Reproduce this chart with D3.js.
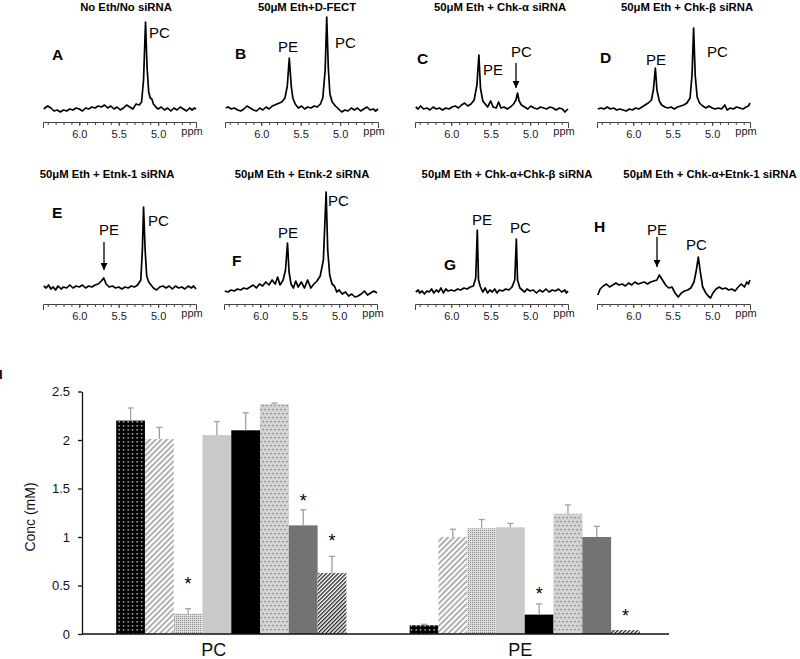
<!DOCTYPE html>
<html><head><meta charset="utf-8">
<script src="https://cdn.jsdelivr.net/npm/d3@7"></script>
<style>body{margin:0;background:#fff} svg{display:block;font-family:"Liberation Sans",Arial,sans-serif}</style>
</head><body>
<svg id="c" width="800" height="659"></svg>
<script>
// ---------------- DATA ----------------
const panelIds = ["A","B","C","D","E","F","G","H"];
const panelTitles = ["No Eth/No siRNA","50μM Eth+D-FECT","50μM Eth + Chk-α siRNA","50μM Eth + Chk-β siRNA",
  "50μM Eth + Etnk-1 siRNA","50μM Eth + Etnk-2 siRNA","50μM Eth + Chk-α+Chk-β siRNA","50μM Eth + Chk-α+Etnk-1 siRNA"];
const ppmLabelTicks = [6.0,5.5,5.0];
const ppmMinorTicks = [6.4,6.3,6.2,6.1,6.0,5.9,5.8,5.7,5.6,5.5,5.4,5.3,5.2,5.1,5.0,4.9,4.8,4.7,4.6];
const ppmDomain = [6.46,4.52];

// spectra: [ppm, intensity above baseline]
const specA = [[6.45,1],[6.42,3],[6.40,4],[6.36,2],[6.32,-1],[6.28,0],[6.24,-2],[6.20,0],[6.16,-1],[6.12,1],[6.08,0],[6.04,2],[6.00,1],[5.96,-1],[5.92,2],[5.88,1],[5.84,3],[5.80,2],[5.76,4],[5.72,3],[5.68,5],[5.64,2],[5.60,4],[5.56,1],[5.52,3],[5.48,0],[5.44,2],[5.40,5],[5.36,3],[5.32,1],[5.28,6],[5.24,5],[5.21,8],[5.185,30],[5.16,88],[5.14,42],[5.12,18],[5.10,12],[5.08,11],[5.06,6],[5.03,3],[5.00,1],[4.96,3],[4.92,0],[4.88,2],[4.84,-1],[4.80,2],[4.76,0],[4.72,3],[4.68,1],[4.64,-1],[4.60,2],[4.57,0],[4.54,2],[4.52,1]];
const specB = [[6.45,2],[6.42,3],[6.38,1],[6.34,2],[6.30,0],[6.26,-1],[6.22,1],[6.18,4],[6.14,2],[6.10,0],[6.06,-1],[6.02,2],[5.98,0],[5.94,3],[5.90,1],[5.86,4],[5.80,6],[5.74,8],[5.70,12],[5.67,24],[5.645,52],[5.62,24],[5.60,12],[5.57,6],[5.53,2],[5.49,4],[5.45,1],[5.41,3],[5.37,2],[5.33,4],[5.29,3],[5.25,6],[5.22,12],[5.19,40],[5.17,93],[5.15,42],[5.13,16],[5.10,8],[5.06,4],[5.02,1],[4.98,-2],[4.94,0],[4.90,-1],[4.86,2],[4.82,0],[4.78,2],[4.74,-1],[4.70,1],[4.66,3],[4.62,0],[4.58,1],[4.55,-1],[4.52,1]];
const specC = [[6.45,3],[6.42,1],[6.39,4],[6.35,1],[6.31,2],[6.27,0],[6.23,3],[6.19,1],[6.15,2],[6.11,0],[6.07,2],[6.03,1],[5.99,3],[5.95,4],[5.91,2],[5.87,5],[5.83,7],[5.79,4],[5.75,6],[5.71,10],[5.675,25],[5.65,55],[5.63,22],[5.60,9],[5.57,6],[5.54,3],[5.50,9],[5.47,3],[5.43,2],[5.40,8],[5.37,2],[5.33,3],[5.29,1],[5.25,3],[5.21,6],[5.18,10],[5.16,17],[5.14,9],[5.11,5],[5.07,3],[5.03,1],[4.99,4],[4.95,2],[4.91,1],[4.87,3],[4.83,2],[4.79,1],[4.75,3],[4.71,2],[4.67,0],[4.63,2],[4.59,1],[4.56,-2],[4.52,1]];
const specD = [[6.45,1],[6.41,2],[6.37,1],[6.33,3],[6.29,1],[6.25,2],[6.21,0],[6.17,1],[6.13,0],[6.09,-1],[6.05,1],[6.01,0],[5.97,2],[5.93,1],[5.89,3],[5.85,5],[5.81,7],[5.77,10],[5.745,20],[5.72,42],[5.70,20],[5.67,9],[5.64,5],[5.60,3],[5.56,2],[5.52,3],[5.48,1],[5.44,3],[5.40,4],[5.36,5],[5.32,7],[5.28,12],[5.255,35],[5.235,82],[5.215,35],[5.19,13],[5.16,7],[5.12,4],[5.08,2],[5.04,4],[5.00,2],[4.96,1],[4.92,2],[4.88,1],[4.84,5],[4.81,0],[4.77,2],[4.73,1],[4.69,3],[4.65,2],[4.61,1],[4.57,3],[4.54,4],[4.52,7]];
const specE = [[6.45,4],[6.42,2],[6.39,5],[6.36,1],[6.33,3],[6.30,0],[6.27,4],[6.23,1],[6.20,3],[6.16,2],[6.12,5],[6.08,2],[6.04,4],[6.00,3],[5.96,5],[5.92,2],[5.88,4],[5.84,3],[5.80,5],[5.76,6],[5.72,9],[5.69,12],[5.66,6],[5.62,3],[5.58,4],[5.54,2],[5.50,3],[5.46,1],[5.42,3],[5.38,2],[5.34,4],[5.30,3],[5.26,5],[5.22,10],[5.20,40],[5.185,83],[5.165,40],[5.145,14],[5.12,8],[5.09,5],[5.06,2],[5.02,0],[4.98,3],[4.94,4],[4.90,2],[4.86,4],[4.82,1],[4.78,4],[4.74,2],[4.70,3],[4.66,1],[4.62,4],[4.58,2],[4.55,4],[4.52,1]];
const specF = [[6.45,-1],[6.41,-2],[6.37,0],[6.33,-1],[6.29,1],[6.25,0],[6.21,2],[6.17,1],[6.13,3],[6.09,5],[6.05,2],[6.01,6],[5.97,4],[5.93,8],[5.89,5],[5.85,10],[5.81,6],[5.78,13],[5.75,5],[5.71,10],[5.68,20],[5.655,47],[5.635,18],[5.61,6],[5.58,2],[5.55,9],[5.52,3],[5.48,8],[5.44,2],[5.40,10],[5.36,2],[5.32,6],[5.28,9],[5.24,14],[5.20,30],[5.165,98],[5.145,40],[5.12,15],[5.09,6],[5.06,4],[5.03,-2],[5.00,0],[4.96,-4],[4.92,-2],[4.88,-6],[4.84,-4],[4.80,-7],[4.76,-6],[4.72,-4],[4.68,-1],[4.64,-5],[4.60,-3],[4.56,-1],[4.52,-3]];
const specG = [[6.45,-2],[6.42,0],[6.40,-3],[6.37,-1],[6.34,-4],[6.31,-1],[6.28,-2],[6.25,1],[6.22,-3],[6.19,0],[6.16,-2],[6.13,2],[6.10,-3],[6.07,1],[6.04,-1],[6.00,0],[5.96,-1],[5.92,1],[5.88,0],[5.84,2],[5.80,1],[5.76,3],[5.72,4],[5.69,12],[5.67,60],[5.655,10],[5.63,3],[5.60,-2],[5.57,2],[5.54,-3],[5.51,0],[5.48,-2],[5.45,1],[5.42,-3],[5.39,0],[5.35,-1],[5.31,1],[5.27,0],[5.23,3],[5.195,10],[5.175,51],[5.16,10],[5.13,2],[5.10,0],[5.07,-2],[5.04,1],[5.00,-1],[4.96,0],[4.92,-3],[4.88,0],[4.84,-2],[4.80,1],[4.76,-2],[4.72,0],[4.68,-1],[4.64,1],[4.60,-2],[4.56,0],[4.54,-3],[4.52,-1]];
const specH = [[6.45,-5],[6.42,1],[6.38,4],[6.34,6],[6.30,3],[6.26,5],[6.22,7],[6.18,5],[6.14,6],[6.10,4],[6.06,7],[6.02,5],[5.98,8],[5.94,6],[5.90,7],[5.86,8],[5.82,6],[5.78,8],[5.74,9],[5.70,10],[5.67,15],[5.63,10],[5.59,5],[5.55,2],[5.51,3],[5.47,-3],[5.43,-7],[5.39,-3],[5.35,-1],[5.31,0],[5.27,2],[5.23,8],[5.20,20],[5.175,33],[5.15,18],[5.12,3],[5.08,-3],[5.05,-6],[5.02,-8],[4.99,-3],[4.95,1],[4.91,3],[4.87,1],[4.83,2],[4.79,0],[4.75,1],[4.71,-1],[4.67,3],[4.63,6],[4.59,3],[4.56,8],[4.54,6],[4.52,10]];

// bar chart
const barCategories = ["PC","PE"];
const barSeries = [0,1,2,3,4,5,6,7];
const pcMeans  = [2.20,2.01,0.21,2.05,2.10,2.37,1.12,0.63];
const pcErrors = [0.13,0.12,0.05,0.14,0.18,0.01,0.16,0.17];
const peMeans  = [0.09,1.00,1.09,1.10,0.20,1.24,1.00,0.04];
const peErrors = [0.01,0.08,0.09,0.04,0.11,0.09,0.11,0.00];
const pcStars  = [null,null,0.56,null,null,null,1.41,1.00];
const peStars  = [null,null,null,null,0.45,null,null,0.23];
const yTicks   = [0,0.5,1,1.5,2,2.5];

// ---------------- LAYOUT ----------------
const svg = d3.select("#c");
const spectra = [specA,specB,specC,specD,specE,specF,specG,specH];
const layout = [
  {x0:43,  base:110, axisY:122, titleX:126, titleY:11,  letter:[52,60],   pe:null,      pc:[149,38]},
  {x0:225, base:110, axisY:122, titleX:307, titleY:11,  letter:[235,59],  pe:[278,52],  pc:[335,48]},
  {x0:415, base:110, axisY:122, titleX:500, titleY:11,  letter:[417,64],  pe:[483,75],  pc:[511,57], arrow:[516,63,88]},
  {x0:597, base:110, axisY:122, titleX:687, titleY:11,  letter:[600,63],  pe:[646,65],  pc:[707,57]},
  {x0:43,  base:290, axisY:304, titleX:107, titleY:178, letter:[52,218],  pe:[99,235],  pc:[148,226], arrow:[104,242,270]},
  {x0:224, base:290, axisY:304, titleX:302, titleY:178, letter:[232,266], pe:[278,238], pc:[328,206]},
  {x0:415, base:290, axisY:304, titleX:507, titleY:178, letter:[444,270], pe:[472,225], pc:[510,233]},
  {x0:597, base:290, axisY:304, titleX:710, titleY:178, letter:[594,232], pe:[647,235], pc:[686,250], arrow:[657,237,267]}
];

const defs = svg.append("defs");
defs.append("marker").attr("id","ah").attr("viewBox","0 0 10 10").attr("refX",10).attr("refY",5)
  .attr("markerWidth",7).attr("markerHeight",7).attr("markerUnits","userSpaceOnUse").attr("orient","auto")
  .append("path").attr("d","M0,0L10,5L0,10z").attr("fill","#000");

panelIds.forEach((id,i)=>{
  const L = layout[i];
  const g = svg.append("g");
  const x = d3.scaleLinear().domain(ppmDomain).range([L.x0, L.x0+153]);
  const y = d3.scaleLinear().domain([0,100]).range([L.base, L.base-100]);
  g.append("text").attr("x",L.titleX).attr("y",L.titleY).attr("text-anchor","middle")
    .attr("font-size",11.3).attr("font-weight","bold").text(panelTitles[i]);
  g.append("text").attr("x",L.letter[0]).attr("y",L.letter[1]).attr("font-size",15.5)
    .attr("font-weight","bold").text(id);
  if (L.pe) g.append("text").attr("x",L.pe[0]).attr("y",L.pe[1]).attr("font-size",15).text("PE");
  if (L.pc) g.append("text").attr("x",L.pc[0]).attr("y",L.pc[1]).attr("font-size",15).text("PC");
  if (L.arrow) g.append("line").attr("x1",L.arrow[0]).attr("x2",L.arrow[0]).attr("y1",L.arrow[1]).attr("y2",L.arrow[2])
    .attr("stroke","#000").attr("stroke-width",1.3).attr("marker-end","url(#ah)");
  g.append("path").datum(spectra[i])
    .attr("d", d3.line().x(d=>x(d[0])).y(d=>y(d[1])))
    .attr("fill","none").attr("stroke","#000").attr("stroke-width",1.7).attr("stroke-linejoin","round");
  const a1 = g.append("g").attr("transform",`translate(0,${L.axisY})`)
    .call(d3.axisBottom(x).tickValues(ppmMinorTicks).tickSize(3).tickSizeOuter(6).tickFormat(""));
  const a2 = g.append("g").attr("transform",`translate(0,${L.axisY})`)
    .call(d3.axisBottom(x).tickValues(ppmLabelTicks).tickSize(4).tickPadding(4).tickFormat(d3.format(".1f")));
  a2.select(".domain").remove();
  [a1,a2].forEach(a=>{a.attr("font-family",null).attr("font-size",null);
    a.selectAll("line,path").attr("stroke","#444");});
  a2.selectAll("text").attr("font-size",11).attr("fill","#222");
  g.append("text").attr("x",L.x0+149).attr("y",L.axisY+12.5).attr("text-anchor","middle")
    .attr("font-size",11).attr("fill","#222").text("ppm");
});

// ---------------- BAR CHART ----------------
function pat(id,w,h,transform){
  const p = defs.append("pattern").attr("id",id).attr("patternUnits","userSpaceOnUse").attr("width",w).attr("height",h);
  if (transform) p.attr("patternTransform",transform);
  return p;
}
let p = pat("p0",4.5,4); p.append("rect").attr("width",4.5).attr("height",4).attr("fill","#000");
p.append("rect").attr("x",1.5).attr("y",1.2).attr("width",1.3).attr("height",1.3).attr("fill","#fff");
p = pat("p1",4,4,"rotate(45)"); p.append("rect").attr("width",4).attr("height",4).attr("fill","#fff");
p.append("rect").attr("width",1.8).attr("height",4).attr("fill","#a8a8a8");
p = pat("p2",2,2); p.append("rect").attr("width",2).attr("height",2).attr("fill","#dedede");
p.append("rect").attr("width",1).attr("height",1).attr("fill","#8a8a8a");
p = pat("p5",4,8); p.append("rect").attr("width",4).attr("height",8).attr("fill","#d2d2d2");
p.append("rect").attr("x",0.5).attr("y",1).attr("width",1.2).attr("height",1.2).attr("fill","#707070");
p.append("rect").attr("x",2.5).attr("y",5).attr("width",1.2).attr("height",1.2).attr("fill","#707070");
p = pat("p7",2.8,2.8,"rotate(45)"); p.append("rect").attr("width",2.8).attr("height",2.8).attr("fill","#fff");
p.append("rect").attr("width",1.3).attr("height",2.8).attr("fill","#222");
const barFills = ["url(#p0)","url(#p1)","url(#p2)","#c9c9c9","#000","url(#p5)","#737373","url(#p7)"];

const yBar = d3.scaleLinear().domain([0,2.5]).range([634,391.5]);
const xCat = d3.scaleBand().domain(barCategories).range([82,669]);
const xBar = d3.scaleBand().domain(barSeries).range([0,xCat.bandwidth()]).paddingInner(0).paddingOuter(1.1).align(0.54);
const means = [pcMeans, peMeans], errs = [pcErrors, peErrors], stars = [pcStars, peStars];
const labelDx = [-15,-2];

const bg = svg.append("g");
barCategories.forEach((c,ci)=>{
  const gx = xCat(c);
  barSeries.forEach(s=>{
    const x = gx + xBar(s), w = xBar.bandwidth(), v = means[ci][s];
    bg.append("rect").attr("x",x).attr("y",yBar(v)).attr("width",w).attr("height",yBar(0)-yBar(v))
      .attr("fill",barFills[s]);
    const e = errs[ci][s];
    if (e > 0) {
      const cx = x + w/2;
      bg.append("line").attr("x1",cx).attr("x2",cx).attr("y1",yBar(v)).attr("y2",yBar(v+e))
        .attr("stroke","#a0a0a0").attr("stroke-width",1.3);
      bg.append("line").attr("x1",cx-3).attr("x2",cx+3).attr("y1",yBar(v+e)).attr("y2",yBar(v+e))
        .attr("stroke","#a0a0a0").attr("stroke-width",1.3);
    }
    const st = stars[ci][s];
    if (st !== null) bg.append("text").attr("x",x+w/2).attr("y",yBar(st)+10).attr("text-anchor","middle")
      .attr("font-size",18).text("*");
  });
  bg.append("text").attr("x",gx + xCat.bandwidth()/2 + labelDx[ci]).attr("y",656).attr("text-anchor","middle")
    .attr("font-size",18).attr("fill","#111").text(c);
});

const ya = svg.append("g").attr("transform","translate(82,0)")
  .call(d3.axisLeft(yBar).tickValues(yTicks).tickSize(4).tickSizeOuter(0).tickPadding(8).tickFormat(d=>String(d)));
ya.attr("font-family",null).attr("font-size",null);
ya.selectAll("text").attr("font-size",13).attr("fill","#111");
ya.selectAll("line,path").attr("stroke","#111").attr("stroke-width",1.3);
svg.append("line").attr("x1",82).attr("x2",669).attr("y1",yBar(0)).attr("y2",yBar(0))
  .attr("stroke","#111").attr("stroke-width",1.5);
svg.append("text").attr("transform","translate(35,517) rotate(-90)").attr("text-anchor","middle")
  .attr("font-size",14).attr("fill","#111").text("Conc (mM)");
svg.append("text").attr("x",-1).attr("y",379).attr("font-size",13).attr("font-weight","bold").text("I");
</script>
</body></html>
